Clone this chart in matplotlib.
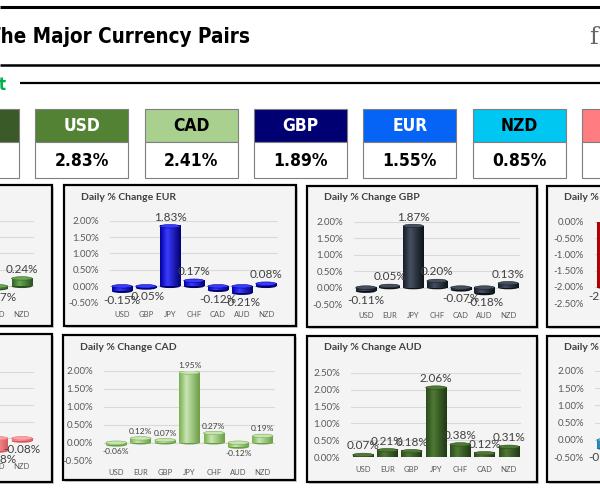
import numpy as np
import matplotlib
matplotlib.use('Agg')
import matplotlib.pyplot as plt
from matplotlib import font_manager
from matplotlib.patches import Rectangle, Ellipse
from matplotlib.colors import LinearSegmentedColormap

W, H = 600, 503

# fonts
installed = {f.name for f in font_manager.fontManager.ttflist}
if 'Liberation Sans Narrow' in installed:
    HEAVY = dict(family='Liberation Sans Narrow', weight='bold')
else:
    HEAVY = dict(family='DejaVu Sans', weight='bold', stretch='condensed')
BODY = ['Lato', 'DejaVu Sans']

#########
# Dados #
#########

# strength tiles (first and last are cut off at the edges)
tile_ccy = ['AUD', 'USD', 'CAD', 'GBP', 'EUR', 'NZD', 'CHF']
tile_val = ['', '2.83%', '2.41%', '1.89%', '1.55%', '0.85%', '']
tile_face = ['#3a5a27', '#548235', '#a9d08e', '#000072', '#0563f5', '#00c6f2', '#ff7c80']
tile_font = ['white', 'white', 'black', 'white', 'white', 'black', 'black']

# daily % change panels
cats_usd = ['EUR', 'GBP', 'JPY', 'CHF', 'CAD', 'AUD', 'NZD']
vals_usd = [0.15, 0.11, 2.01, 0.30, 0.06, -0.07, 0.24]

cats_eur = ['USD', 'GBP', 'JPY', 'CHF', 'CAD', 'AUD', 'NZD']
vals_eur = [-0.15, -0.05, 1.83, 0.17, -0.12, -0.21, 0.08]

cats_gbp = ['USD', 'EUR', 'JPY', 'CHF', 'CAD', 'AUD', 'NZD']
vals_gbp = [-0.11, 0.05, 1.87, 0.20, -0.07, -0.18, 0.13]

cats_jpy = ['USD', 'EUR', 'GBP', 'CHF', 'CAD', 'AUD', 'NZD']
vals_jpy = [-2.01, -1.83, -1.87, -1.68, -1.95, -2.06, -1.76]

cats_chf = ['USD', 'EUR', 'GBP', 'JPY', 'CAD', 'AUD', 'NZD']
vals_chf = [-0.30, -0.17, -0.20, 1.68, -0.27, -0.38, -0.08]

cats_cad = ['USD', 'EUR', 'GBP', 'JPY', 'CHF', 'AUD', 'NZD']
vals_cad = [-0.06, 0.12, 0.07, 1.95, 0.27, -0.12, 0.19]

cats_aud = ['USD', 'EUR', 'GBP', 'JPY', 'CHF', 'CAD', 'NZD']
vals_aud = [0.07, 0.21, 0.18, 2.06, 0.38, 0.12, 0.31]

cats_nzd = ['USD', 'EUR', 'GBP', 'JPY', 'CHF', 'CAD', 'AUD']
vals_nzd = [-0.24, -0.08, -0.13, 1.76, 0.08, -0.19, -0.31]

# bar colours: edge, light, dark
cor_usd = ('#34602a', '#6aa84f', '#2b4f22')
cor_eur = ('#0000a0', '#3b3bff', '#00006e')
cor_gbp = ('#161d26', '#465060', '#0d1218')
cor_jpy = ('#a00000', '#e01010', '#800000')
cor_chf = ('#e86a6e', '#ffa0a2', '#d45a5e')
cor_cad = ('#79b050', '#c9e4b4', '#6a9e45')
cor_aud = ('#2c4a1c', '#4f7a35', '#203814')
cor_nzd = ('#1a7fae', '#4cb8e4', '#166a92')

# panel box, plot box (x0, x1, y top value, y bottom value), y range, label size
panels = [
    ('USD', cats_usd, vals_usd, cor_usd, (-178, 185, 52, 326), (-136, 34, 220.7, 302.7), (-0.5, 2.0), 8.5),
    ('EUR', cats_eur, vals_eur, cor_eur, (64, 185, 296, 326), (110, 278, 220.7, 302.7), (-0.5, 2.0), 8.5),
    ('GBP', cats_gbp, vals_gbp, cor_gbp, (307, 186, 537, 327), (354, 520, 221.7, 304.0), (-0.5, 2.0), 8.5),
    ('JPY', cats_jpy, vals_jpy, cor_jpy, (547, 186, 777, 327), (595, 763, 221.7, 303.3), (-2.5, 0.0), 8.5),
    ('CHF', cats_chf, vals_chf, cor_chf, (-178, 334, 52, 482), (-136, 34, 371.7, 455.0), (-0.5, 2.0), 8.5),
    ('CAD', cats_cad, vals_cad, cor_cad, (63, 335, 295, 480), (104, 275, 370.7, 460.7), (-0.5, 2.0), 6),
    ('AUD', cats_aud, vals_aud, cor_aud, (307, 336, 537, 482), (351, 521, 372.7, 457.3), (0.0, 2.5), 8.5),
    ('NZD', cats_nzd, vals_nzd, cor_nzd, (547, 336, 777, 482), (595, 765, 370.7, 457.3), (-0.5, 2.0), 8.5),
]

##########
# Figura #
##########
fig = plt.figure(figsize=(W / 100, H / 100), dpi=100)
fig.patch.set_facecolor('white')

bg = fig.add_axes([0, 0, 1, 1])
bg.set_xlim(0, W)
bg.set_ylim(H, 0)
bg.axis('off')

# header strip
bg.plot([0, W], [6.5, 6.5], color='black', lw=2.2, solid_capstyle='butt')
bg.plot([0, W], [65, 65], color='black', lw=1.8, solid_capstyle='butt')
bg.plot([20, W], [83, 83], color='black', lw=1.6, solid_capstyle='butt')
bg.text(-12, 37, 'The Major Currency Pairs', fontsize=14.8, color='black', ha='left', va='center', **HEAVY)
bg.text(589, 37, 'f', fontsize=17, color='#666666', ha='left', va='center', family='DejaVu Serif')
bg.text(-10, 85, 'st', fontsize=12, color='#00b050', ha='left', va='center', **HEAVY)

# strength tiles
tile_w, tile_step, tile_x0 = 93, 109.3, -74
for i, (ccy, val) in enumerate(zip(tile_ccy, tile_val)):
    x = tile_x0 + i * tile_step
    bg.add_patch(Rectangle((x, 109), tile_w, 33, facecolor=tile_face[i], edgecolor='#7f7f7f', lw=0.8))
    bg.add_patch(Rectangle((x, 142), tile_w, 36, facecolor='white', edgecolor='#7f7f7f', lw=0.8))
    bg.text(x + tile_w / 2, 126, ccy, fontsize=12.5, color=tile_font[i], ha='center', va='center', **HEAVY)
    if val:
        bg.text(x + tile_w / 2, 161, val, fontsize=12.5, color='black', ha='center', va='center', **HEAVY)


def bar_cmap(cores):
    edge, light, dark = cores
    return LinearSegmentedColormap.from_list('c', [(0, edge), (0.35, light), (1, dark)])


grad = np.linspace(0, 1, 64).reshape(1, -1)

for nome, cats, vals, cores, pbox, plot, yr, lsize in panels:
    px0, py0, px1, py1 = pbox
    bg.add_patch(Rectangle((px0 + 2, py0 + 2), px1 - px0, py1 - py0, facecolor='#d0d0d0', edgecolor='none', zorder=1))
    bg.add_patch(Rectangle((px0, py0), px1 - px0, py1 - py0, facecolor='#f4f4f4', edgecolor='black', lw=1.6, zorder=2))
    bg.text(px0 + 17, py0 + 12, 'Daily % Change ' + nome, fontsize=7.5, fontweight='bold', color='#404040',
            ha='left', va='center', family=BODY, zorder=3)

    x0, x1, yt, yb = plot
    ax = fig.add_axes([x0 / W, 1 - yb / H, (x1 - x0) / W, (yb - yt) / H], zorder=3)
    ax.set_facecolor('none')
    lo, hi = yr
    per_px = (hi - lo) / (yb - yt)
    ticks = np.arange(lo, hi + 0.01, 0.5)
    for t in ticks:
        ax.axhline(t, color='#d9d9d9', lw=0.8, zorder=1)

    cmap = bar_cmap(cores)
    bw = 0.85
    for k, v in enumerate(vals):
        ylo, yhi = min(0, v), max(0, v)
        eh = 3.5 * per_px
        ax.add_patch(Ellipse((k, ylo), bw, eh, facecolor=cores[2], edgecolor='none', zorder=2))
        ax.imshow(grad, extent=[k - bw / 2, k + bw / 2, ylo, yhi], aspect='auto', cmap=cmap,
                  interpolation='bicubic', zorder=3)
        ax.add_patch(Ellipse((k, yhi), bw, eh, facecolor=cores[1], edgecolor=cores[0], lw=0.4, zorder=4))
        if v >= 0:
            ax.annotate(f'{v:.2f}%', (k, yhi), xytext=(0, 2.5), textcoords='offset points', ha='center',
                        va='bottom', fontsize=lsize, color='#404040', family=BODY, zorder=5)
        else:
            ax.annotate(f'{v:.2f}%', (k, ylo), xytext=(0, -2.5), textcoords='offset points', ha='center',
                        va='top', fontsize=lsize, color='#404040', family=BODY, zorder=5)

    ax.set_xlim(-0.5, len(cats) - 0.5)
    ax.set_ylim(lo, hi)
    ax.set_yticks(ticks)
    ax.set_yticklabels([f'{t:.2f}%' for t in ticks], fontsize=7, color='#595959', family=BODY)
    ax.set_xticks(range(len(cats)))
    ax.set_xticklabels(cats, fontsize=5.5, color='#595959', family=BODY)
    ax.tick_params(axis='y', length=0, pad=8)
    ax.tick_params(axis='x', length=0, pad=6 if nome != 'JPY' else 2)
    for s in ax.spines.values():
        s.set_visible(False)

fig.savefig('out.png', dpi=100, facecolor='white')
